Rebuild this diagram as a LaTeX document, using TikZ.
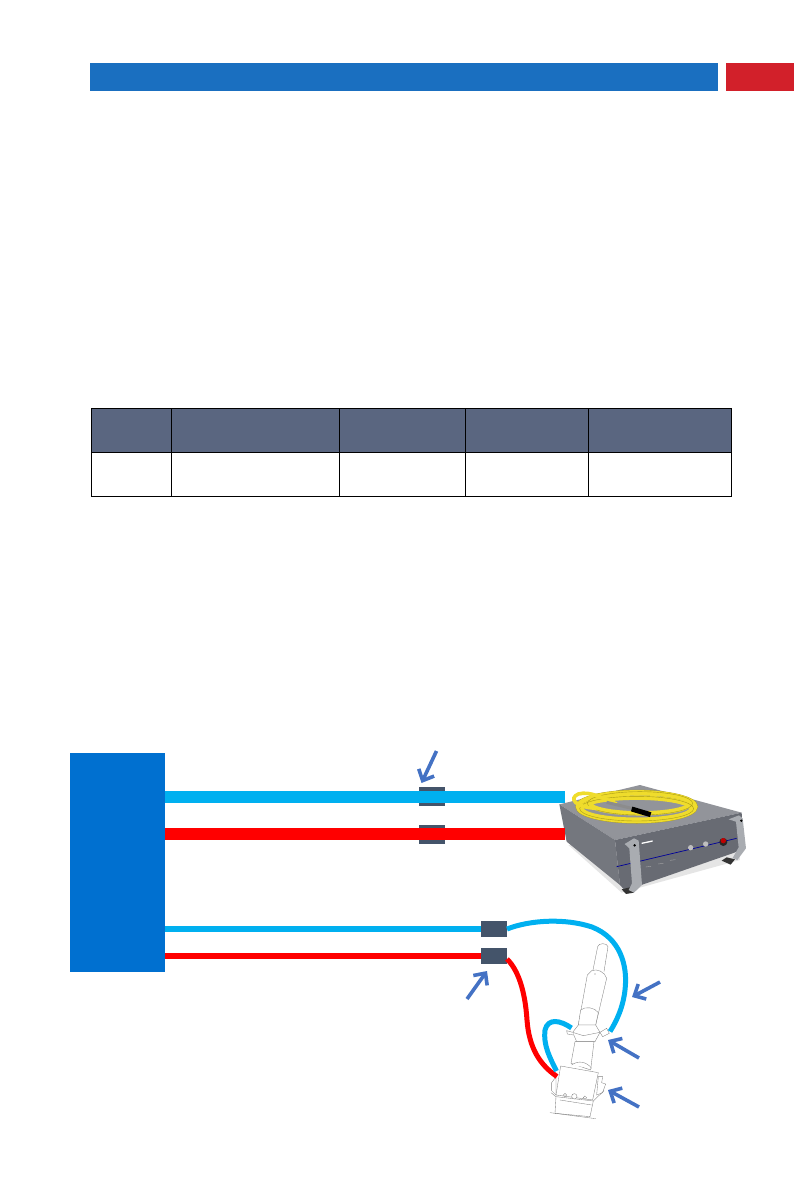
\documentclass[tikz,border=0pt]{standalone}
\usetikzlibrary{arrows.meta, positioning}
\definecolor{headerblue}{HTML}{1a6fc0}
\definecolor{headerred}{HTML}{d2202a}
\definecolor{tablehead}{HTML}{5a6680}
\definecolor{ctrlblue}{HTML}{0070d0}
\definecolor{waterblue}{HTML}{00b0f0}
\definecolor{waterred}{HTML}{ff0000}
\definecolor{slate}{HTML}{44546a}
\definecolor{pointerblue}{HTML}{4472c4}
\definecolor{fibre}{HTML}{efdc2c}
\definecolor{fibredark}{HTML}{a89a18}
\definecolor{casetop}{HTML}{92949a}
\definecolor{caseleft}{HTML}{74777e}
\definecolor{casefront}{HTML}{686b73}
\definecolor{handle}{HTML}{a9acb1}

\begin{document}
\begin{tikzpicture}[
    x=1pt, y=-1pt,
    bar/.style={inner sep=0pt, outer sep=0pt, minimum height=28pt},
    block/.style={inner sep=0pt, outer sep=0pt, fill=slate},
    thickline/.style={line width=12pt},
    thinline/.style={line width=6.5pt},
    hose/.style={line width=5pt},
    pointer/.style={draw=pointerblue, line width=3.6pt, -{Straight Barb[length=9pt,width=17pt]}},
    sketch/.style={draw=black!50, line width=0.35pt, fill=white},
    coil/.style={draw=fibre, line width=4.4pt}
]
    \useasboundingbox (0,0) rectangle (794,1191);

    % Header
    \node[bar, fill=headerblue, minimum width=628pt, anchor=north west] (titlebar) at (90,63) {};
    \node[bar, fill=headerred, minimum width=68pt, anchor=north west] (pagebar) at (726,63) {};

    % Table
    \fill[tablehead] (91.5,408.5) rectangle (731.5,452);
    \foreach \xa/\xb in {91.5/171.5, 171.5/339.5, 339.5/465.5, 465.5/588.5, 588.5/731.5}{
        \draw[black, line width=0.9pt] (\xa,408.5) rectangle (\xb,452);
        \draw[black, line width=0.9pt] (\xa,452) rectangle (\xb,496);
    }

    % Controller
    \node[fill=ctrlblue, inner sep=0pt, outer sep=0pt, minimum width=95pt, minimum height=219pt, anchor=north west] (ctrl) at (70,753) {};

    % Laser source
    \begin{scope}[shift={(540,770)}, x=0.3333pt, y=-0.3333pt]
        \fill[black!10] (85,225) -- (245,368) -- (600,270) -- (600,250) -- cycle;
        \fill[casetop] (58,103) -- (300,45) -- (605,128) -- (225,210) -- cycle;
        \fill[caseleft] (58,103) -- (225,210) -- (240,345) -- (80,215) -- cycle;
        \fill[casefront] (225,210) -- (605,128) -- (612,238) -- (255,362) -- (240,345) -- cycle;
        \draw[blue!60!black, line width=0.7pt] (230,290) -- (590,205);
        \fill[black!80] (545,272) -- (572,284) -- (585,268) -- (560,262) -- cycle;
        \fill[black!80] (245,358) -- (258,372) -- (282,368) -- (270,352) -- cycle;
        % handles
        \fill[handle] (254,222) -- (282,205) -- (296,212) -- (306,345) -- (282,368) -- (266,360) -- (276,340) -- (268,235) -- cycle;
        \fill[handle] (566,148) -- (597,136) -- (608,145) -- (618,235) -- (592,270) -- (578,264) -- (596,232) -- (588,155) -- cycle;
        \fill[black] (284,226) circle (4);
        \fill[black] (604,152) circle (4);
        % panel
        \fill[black!25] (452,233) circle (8);
        \fill[black!25] (497,222) circle (8);
        \fill[black!85] (550,216) circle (12);
        \fill[red!75!black] (550,212) circle (8);
        \fill[white] (305,218) -- (338,211) -- (338,215) -- (305,222) -- cycle;
        \foreach \px/\py in {325/291, 362/282, 398/271}{
            \draw[black!35, line width=0.4pt] (\px-8,\py) -- (\px+8,\py-2);
        }
        % fibre coil
        \draw[fibredark, line width=5pt] (290,110) ellipse (176 and 43);
        \draw[coil] (290,110) ellipse (176 and 43);
        \draw[coil] (290,116) ellipse (165 and 33);
        \draw[coil] (300,100) ellipse (150 and 30);
        \draw[fibredark, line width=0.4pt] (290,116) ellipse (171 and 37);
        \draw[fibredark, line width=0.4pt] (300,100) ellipse (158 and 35);
        \draw[fibre, line width=3.6pt] (170,115) .. controls (105,112) and (85,85) .. (115,72) .. controls (150,62) and (190,85) .. (230,102);
        % handpiece
        \draw[black!45, line width=3pt] (200,97) -- (275,115);
        \draw[black, line width=5pt] (275,117) -- (332,134);
    \end{scope}

    % Welding head
    \begin{scope}[shift={(450,900)}, x=0.3333pt, y=-0.3333pt]
        \draw[sketch] (428,215) -- (443,140) .. controls (445,128) and (472,128) .. (474,140) -- (462,215);
        \draw[sketch] (425,212) .. controls (440,205) and (465,215) .. (470,235) -- (437,375) -- (385,375) -- (412,225) -- cycle;
        \draw[sketch] (392,330) .. controls (405,318) and (435,322) .. (445,338) -- (437,375) -- (385,375) -- cycle;
        \fill[black!50] (435,222) circle (2);
        \draw[sketch] (375,425) -- (432,425) -- (422,510) -- (363,490) -- cycle;
        \draw[sketch] (368,397) -- (385,375) -- (437,375) -- (450,397) -- (435,425) -- (380,425) -- cycle;
        \draw[sketch] (368,397) -- (400,407) -- (450,397);
        \draw[sketch] (450,397) -- (470,385) -- (478,400) -- (458,410) -- cycle;
        \draw[sketch] (368,397) -- (350,392) -- (352,402) -- (370,405);
        \draw[sketch] (365,495) .. controls (385,480) and (410,485) .. (425,505);
        \draw[sketch] (445,530) -- (458,530) -- (455,548) -- (467,552) -- (458,578) -- (440,585) -- cycle;
        \draw[sketch] (318,530) -- (305,548) -- (305,572) -- (318,585) -- cycle;
        \draw[sketch] (318,590) -- (430,603) -- (420,650) -- (315,640) -- cycle;
        \draw[sketch] (332,498) -- (445,518) -- (428,600) -- (318,585) -- cycle;
        \draw[sketch] (345,585) circle (5);
        \draw[sketch] (373,589) circle (8);
        \draw[sketch] (405,593) circle (5);
        \draw[black!50, line width=0.35pt] (330,600) -- (425,615);
        \draw[black!50, line width=0.35pt] (300,638) -- (437,656);
        \draw[black!50, line width=0.35pt] (430,603) -- (462,572);
        \draw[black!50, line width=0.35pt] (318,590) -- (303,578);
    \end{scope}

    % Junction blocks
    \node[block, minimum width=26pt, minimum height=19pt] (uppercold) at (432,796.5) {};
    \node[block, minimum width=26pt, minimum height=19pt] (upperhot) at (432,834.5) {};

    % Laser side
    \coordinate (laserblue) at (565,796.8);
    \coordinate (laserred) at (565,834);
    \coordinate (ctrlcold) at (165,796.8);
    \coordinate (ctrlhot) at (165,834);
    \draw[thickline, waterblue] (ctrlcold) -- (laserblue);
    \draw[thickline, waterred] (ctrlhot) -- (laserred);

    % Head side
    \node[block, minimum width=26pt, minimum height=15.7pt] (lowercold) at (494,929) {};
    \node[block, minimum width=26pt, minimum height=15.7pt] (lowerhot) at (494,956) {};
    \draw[thinline, waterblue] (ctrl.east |- lowercold) -- (lowercold.west);
    \draw[thinline, waterred] (ctrl.east |- lowerhot) -- (lowerhot.west);

    \coordinate (headinlet) at (610,1031.5);
    \coordinate (loopstart) at (571.5,1028);
    \coordinate (loopend) at (556.5,1071);
    \coordinate (headred) at (557,1076.5);
    \coordinate (redstart) at (507,959);
    \draw[hose, waterblue] (lowercold.east) .. controls (530,920) and (565,918) .. (592,927) .. controls (620,938) and (628,965) .. (625,990) .. controls (623,1008) and (616,1022) .. (headinlet);
    \draw[hose, waterred] (redstart) .. controls (518,970) and (525,990) .. (527,1020) .. controls (529,1048) and (540,1065) .. (headred);
    \draw[hose, waterblue] (loopstart) .. controls (560,1020) and (548,1018) .. (545,1030) .. controls (543,1045) and (550,1058) .. (loopend);

    % Pointers
    \foreach \name/\xa/\ya/\xb/\yb in {topblock/436.5/751/421.5/783, lowerblock/467/999/487/971, hosearrow/660/982/632/997, inlet/639/1058/608/1040, headarrow/639/1107/608/1090}{
        \coordinate (\name tail) at (\xa,\ya);
        \coordinate (\name tip) at (\xb,\yb);
        \draw[pointer] (\name tail) -- (\name tip);
    }
\end{tikzpicture}
\end{document}
